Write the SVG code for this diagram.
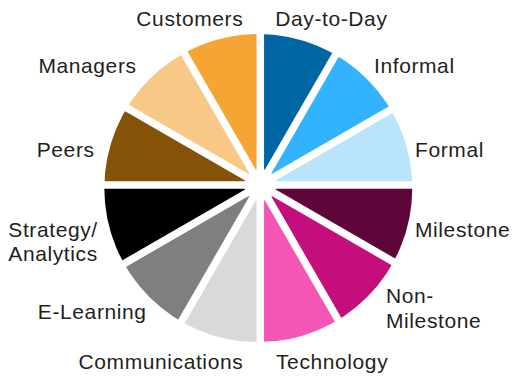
<svg xmlns="http://www.w3.org/2000/svg" width="513" height="381" viewBox="0 0 513 381">
<defs>
<clipPath id="pie"><circle cx="258.3" cy="188.1" r="154"/></clipPath>
</defs>
<style>
text{font-family:"Liberation Sans",Arial,sans-serif;font-size:21px;letter-spacing:0.6px;fill:#231f20}
.e{text-anchor:end}
.gap{stroke:#fff;stroke-width:7.5;fill:none}
</style>
<rect width="513" height="381" fill="#fff"/>
<g clip-path="url(#pie)">
<g id="day-to-day"><polygon points="260.3,185 260.3,-15 360.3,11.8" fill="#0065a3"/></g>
<g id="informal"><polygon points="260.3,185 360.3,11.8 433.5,85" fill="#33b2fe"/></g>
<g id="formal"><polygon points="260.3,185 433.5,85 460.3,185" fill="#bae4fc"/></g>
<g id="milestone"><polygon points="260.3,185 460.3,185 433.5,285" fill="#5e053a"/></g>
<g id="non-milestone"><polygon points="260.3,185 433.5,285 360.3,358.2" fill="#c40e7c"/></g>
<g id="technology"><polygon points="260.3,185 360.3,358.2 260.3,385" fill="#f556b5"/></g>
<g id="communications"><polygon points="260.3,185 260.3,385 160.3,358.2" fill="#d9d9d9"/></g>
<g id="e-learning"><polygon points="260.3,185 160.3,358.2 87.1,285" fill="#7f7f7f"/></g>
<g id="strategy"><polygon points="260.3,185 87.1,285 60.3,185" fill="#000"/></g>
<g id="peers"><polygon points="260.3,185 60.3,185 87.1,85" fill="#845307"/></g>
<g id="managers"><polygon points="260.3,185 87.1,85 160.3,11.8" fill="#f7c886"/></g>
<g id="customers"><polygon points="260.3,185 160.3,11.8 260.3,-15" fill="#f4a534"/></g>
</g>
<g id="connectors">
<path class="gap" d="M260.3,-15L260.3,385M360.3,11.8L160.3,358.2M433.5,85L87.1,285M460.3,185L60.3,185M433.5,285L87.1,85M360.3,358.2L160.3,11.8"/>
<circle cx="260.3" cy="185" r="16" fill="#fff"/>
</g>
<g id="labels">
<text x="243.3" y="26" class="e">Customers</text>
<text x="275.3" y="26">Day-to-Day</text>
<text x="136.6" y="73.3" class="e">Managers</text>
<text x="374" y="73.3">Informal</text>
<text x="94.6" y="156.7" class="e">Peers</text>
<text x="415" y="156.7">Formal</text>
<text x="8.3" y="236.7">Strategy/<tspan x="8.3" y="261">Analytics</tspan></text>
<text x="415" y="236.7">Milestone</text>
<text x="146.6" y="319.3" class="e">E-Learning</text>
<text x="386" y="303.3">Non-<tspan x="386" y="327.7">Milestone</tspan></text>
<text x="243.3" y="369.3" class="e">Communications</text>
<text x="276" y="369.3">Technology</text>
</g>
</svg>
